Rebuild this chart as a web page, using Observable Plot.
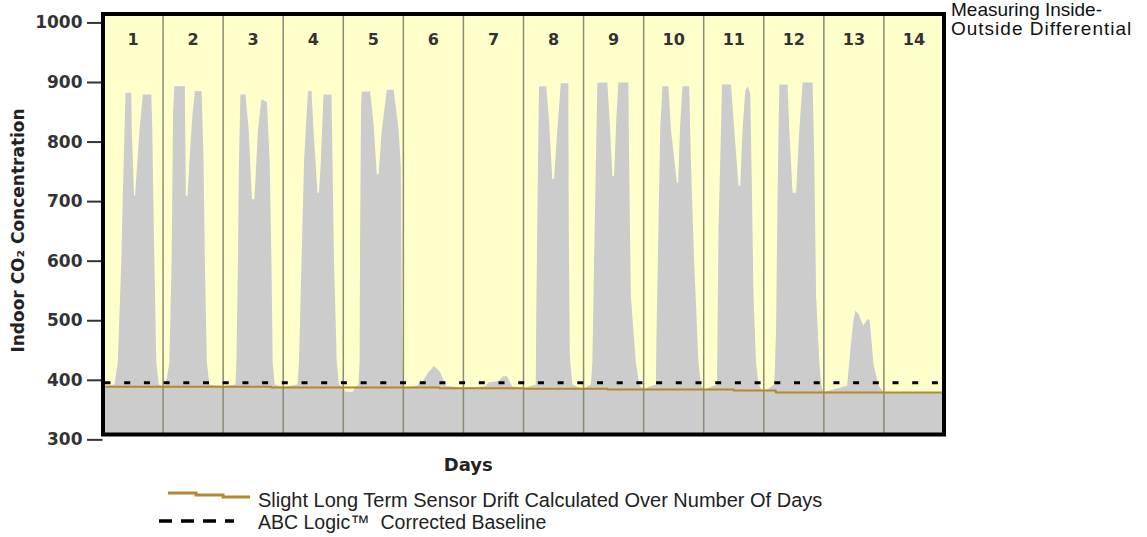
<!DOCTYPE html>
<html><head><meta charset="utf-8">
<script src="https://cdn.jsdelivr.net/npm/d3@7"></script>
<script src="https://cdn.jsdelivr.net/npm/@observablehq/plot@0.6"></script>
<style>
body{margin:0;background:#fff;}
#wrap{position:relative;width:1147px;height:537px;overflow:hidden;background:#fff;}
#chart{position:absolute;left:0;top:0;}
#note{position:absolute;left:951px;top:0px;font:19px/19px "Liberation Sans",Arial,sans-serif;color:#111;}
#note span{letter-spacing:1px;}
.lg{position:absolute;font:20px/22px "Liberation Sans",Arial,sans-serif;color:#222;white-space:nowrap;}
.sw{position:absolute;}
svg [aria-label="y-axis"] .tick text, svg [aria-label="y-axis tick label"] text{font-family:"DejaVu Sans",sans-serif;font-size:17px;font-weight:bold;fill:#333;}
svg [aria-label="y-axis"] line, svg [aria-label="y-axis tick"] path, svg [aria-label="y-axis tick"] line{stroke:#333;stroke-width:2;}
</style></head><body>
<div id="wrap">
  <div id="chart"></div>
  <div id="note">Measuring Inside-<br><span>Outside Differential</span></div>
  <svg class="sw" style="left:165px;top:489px" width="92" height="14"><polyline points="3,4 31,4 31,6 58,6 58,8 85,8" fill="none" stroke="#b8862e" stroke-width="3"/></svg>
  <div class="lg" style="left:258px;top:489px">Slight Long Term Sensor Drift Calculated Over Number Of Days</div>
  <svg class="sw" style="left:157px;top:514px" width="82" height="14"><line x1="2" y1="7" x2="77" y2="7" stroke="#000" stroke-width="3.5" stroke-dasharray="13,9"/></svg>
  <div class="lg" style="left:258px;top:511px;font-size:19.5px">ABC Logic™&nbsp; Corrected Baseline</div>
</div>
<script>
const days = d3.range(1, 15);
const yTicks = [300, 400, 500, 600, 700, 800, 900, 1000];
const baseline = 396;
// drift steps: [day position, ppm]
const driftX = [0, 2.8, 5.6, 7.0, 8.4, 10.5, 11.2, 14];
const driftV = [389, 388, 386.5, 386, 384.5, 383, 379.5, 379.5];
// CO2 profiles per day: [hour of day, ppm]
const day1 = [[0,389],[4.8,392],[6.1,429],[7.5,597],[8.1,709],[8.8,820],[9.2,882],[11.5,882],[11.7,820],[12.6,709],[13,709],[14.8,820],[16.1,879],[19.5,879],[19.9,820],[20.5,653],[21.5,429],[22.5,392],[24,389]];
const day2 = [[0,389],[1.3,392],[2.7,429],[3.6,597],[4.2,850],[4.7,893],[8.9,893],[9.3,709],[10,709],[11.2,800],[12,848],[12.9,885],[15.6,885],[16.4,765],[16.9,597],[17.7,429],[18.7,392],[24,389]];
const day3 = [[0,389],[5.1,392],[5.5,429],[6.1,597],[6.5,765],[7.1,879],[9.1,879],[10.4,820],[11.7,703],[12.7,703],[14.1,820],[15.5,871],[17.7,866],[18.8,765],[19.5,597],[20,429],[20.8,392],[24,388]];
const day4 = [[0,388],[5.9,392],[6.5,429],[7.5,597],[8.5,765],[9.2,820],[10.1,885],[11.5,885],[12.3,820],[13.9,714],[14.5,714],[15.2,765],[16.3,879],[19.5,879],[19.9,765],[20.5,597],[21.6,429],[22.5,392],[24,388]];
const day5 = [[0,388],[1,380],[4,380],[5,388],[6.3,392],[6.7,429],[6.9,630],[7.3,860],[7.6,884],[10.9,884],[12.3,830],[12.9,790],[13.6,745],[14.3,745],[15.6,820],[17.6,887],[20.3,887],[22.3,820],[23.2,755],[23.6,500],[24,387]];
const day6 = [[0,387],[5.2,389],[8,398],[10,412],[12.4,423],[14.8,414],[17.2,390],[24,386.5]];
const day7 = [[0,386.5],[8.8,389],[10.4,396],[14.4,398],[16,406],[17.6,406],[19.6,389],[24,386]];
const day8 = [[0,386],[5.1,392],[5.3,513],[5.8,700],[6.1,800],[6.4,893],[9.3,893],[10.4,835],[11.7,737],[12.4,737],[13.7,820],[15.1,898],[18.1,898],[18.3,650],[18.7,440],[19.7,392],[24,385]];
const day9 = [[0,384.5],[3.1,392],[3.7,429],[4.4,600],[5.1,765],[5.7,899],[9.7,899],[10.7,830],[11.7,742],[12.4,742],[13.3,840],[14.1,899],[18.1,899],[18.4,765],[19.1,540],[21.1,429],[22.4,392],[24,384.5]];
const day10 = [[0,384.5],[5.1,392],[5.3,470],[6.1,653],[6.8,820],[7.7,893],[10.1,893],[11.1,820],[13.5,731],[14,731],[14.7,820],[15.7,893],[18.4,893],[19.1,765],[20.4,597],[22.1,429],[23.1,392],[24,384]];
const day11 = [[0,383],[5.5,392],[6.1,653],[7.1,820],[7.5,896],[11.1,896],[12.4,820],[14.1,726],[14.8,726],[15.7,820],[16.8,885],[17.8,893],[18.8,880],[19.5,709],[20.1,540],[21.1,429],[22.1,392],[24,380]];
const day12 = [[0,379.5],[4.4,392],[5.1,485],[5.7,709],[6.1,820],[6.4,896],[9.7,896],[10.4,820],[11.7,714],[13.1,714],[14.4,820],[15.7,899],[19.7,899],[20.4,765],[21.1,540],[22.4,429],[23.1,392],[24,379.5]];
const day13 = [[0,379.5],[9.5,390],[10.8,451],[12,500],[12.8,516],[14.1,510],[15.9,491],[17.7,502],[18.5,500],[20.1,424],[22.1,390],[24,379.5]];
const day14 = [[0,379.5],[24,379.5]];

const profiles = [day1,day2,day3,day4,day5,day6,day7,day8,day9,day10,day11,day12,day13,day14];
const series = profiles.flatMap((p, i) => p.map(([h, v]) => ({x: i + h / 24, v})));
const drift = driftX.map((x, i) => ({x, v: driftV[i]}));
const yMin = 309, yMax = 1015;

const chart = Plot.plot({
  width: 1147, height: 480,
  marginLeft: 102.5, marginRight: 203.5, marginTop: 13.5, marginBottom: 46,
  x: {domain: [0, 14], axis: null},
  y: {domain: [yMin, yMax], ticks: yTicks, tickSize: 15.5, tickPadding: 5, tickFormat: d => String(d), label: null},
  style: {fontFamily: "DejaVu Sans, sans-serif", background: "transparent", color: "#333"},
  marks: [
    Plot.frame({fill: "#ffffcc"}),
    Plot.areaY(series, {x: "x", y1: yMin, y2: "v", fill: "#cccccc"}),
    Plot.ruleX(d3.range(1, 14), {stroke: "#8a8a76", strokeWidth: 1.5}),
    Plot.ruleY([baseline], {stroke: "#000", strokeWidth: 3, strokeDasharray: "6,13.7", strokeDashoffset: -2}),
    Plot.line(drift, {x: "x", y: "v", curve: "step-after", stroke: "#b8862e", strokeWidth: 2}),
    Plot.frame({stroke: "#000", strokeWidth: 4}),
    Plot.text(days, {x: d => d - 0.5, frameAnchor: "top", dy: 20, text: d => String(d), fontSize: 16, fontWeight: "bold", fill: "#333"}),
    Plot.text(["Days"], {x: 6.08, frameAnchor: "bottom", dy: 36, fontSize: 18, fontWeight: "bold", fill: "#222"}),
    Plot.text(["Indoor CO₂ Concentration"], {x: -1.407, y: 651.5, rotate: -90, fontSize: 17, fontWeight: "bold", fill: "#222"})
  ]
});
document.getElementById("chart").appendChild(chart);
</script>
</body></html>
